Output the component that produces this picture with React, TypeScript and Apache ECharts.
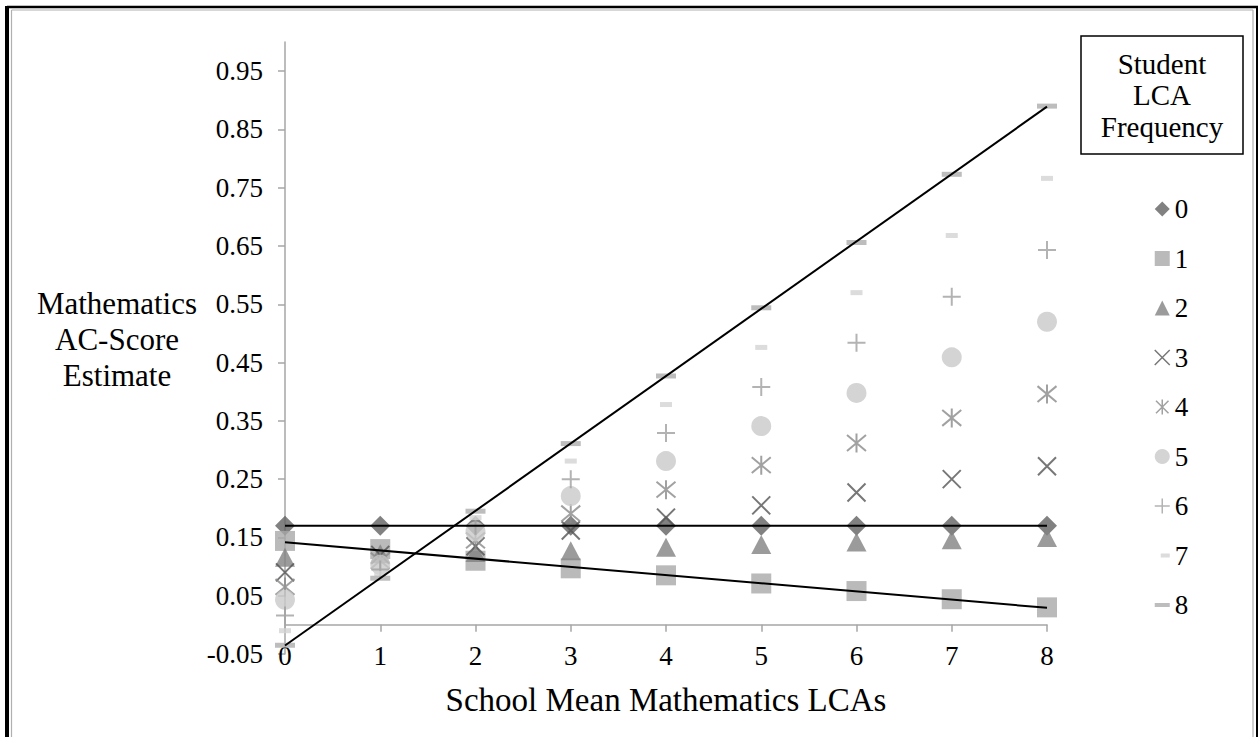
import React, { useEffect, useRef } from "react";
import * as echarts from "echarts";

// ---- data ----
const xValues = [0, 1, 2, 3, 4, 5, 6, 7, 8];
const seriesNames = ["0", "1", "2", "3", "4", "5", "6", "7", "8"];
const freq0 = [0.17, 0.17, 0.17, 0.17, 0.17, 0.17, 0.17, 0.17, 0.17];
const freq1 = [0.144, 0.13, 0.11, 0.097, 0.085, 0.071, 0.058, 0.044, 0.03];
const freq2 = [0.116, 0.122, 0.124, 0.127, 0.133, 0.138, 0.142, 0.146, 0.15];
const freq3 = [0.09, 0.12, 0.135, 0.162, 0.184, 0.205, 0.227, 0.25, 0.272];
const freq4 = [0.065, 0.11, 0.145, 0.191, 0.232, 0.274, 0.312, 0.355, 0.396];
const freq5 = [0.043, 0.103, 0.16, 0.221, 0.281, 0.341, 0.398, 0.459, 0.52];
const freq6 = [0.016, 0.095, 0.17, 0.25, 0.329, 0.408, 0.484, 0.563, 0.643];
const freq7 = [-0.01, 0.088, 0.184, 0.281, 0.378, 0.476, 0.57, 0.668, 0.766];
const freq8 = [-0.035, 0.08, 0.195, 0.311, 0.427, 0.544, 0.656, 0.773, 0.89];
const yTicks = [-0.05, 0.05, 0.15, 0.25, 0.35, 0.45, 0.55, 0.65, 0.75, 0.85, 0.95];
const trendSeries = ["0", "1", "8"];
const yTitle = ["Mathematics", "AC-Score", "Estimate"];
const xTitle = "School Mean Mathematics LCAs";
const legendTitle = ["Student", "LCA", "Frequency"];

const allValues = [freq0, freq1, freq2, freq3, freq4, freq5, freq6, freq7, freq8];

// ---- styles ----
const FONT = "Liberation Serif";
const X_PATH = "path://M0,0L10,10M10,0L0,10";
const STAR_PATH = "path://M0,0L10,10M10,0L0,10M5,-1L5,11";
const PLUS_PATH = "path://M5,0L5,10M0,5L10,5";
const styles: any[] = [
  { symbol: "diamond", size: 20, color: "#626262", icon: "diamond" },
  { symbol: "rect", size: 20, color: "#a9a9a9", icon: "rect" },
  { symbol: "triangle", size: [20, 19], color: "#828282", icon: "triangle" },
  { symbol: X_PATH, size: 18, color: "#555555", stroke: true, icon: X_PATH },
  { symbol: STAR_PATH, size: 19, color: "#8a8a8a", stroke: true, icon: STAR_PATH },
  { symbol: "circle", size: 20, color: "#c9c9c9", icon: "circle" },
  { symbol: PLUS_PATH, size: 18, color: "#a0a0a0", stroke: true, icon: PLUS_PATH },
  { symbol: "rect", size: [12, 5], color: "#d3d3d3", icon: "path://M0,0M15,15M6,5.5h9v4h-9z" },
  { symbol: "rect", size: [20, 5], color: "#adadad", icon: "path://M0,0M15,15M0,5.5h15v4h-15z" },
];

function linReg(xs: number[], ys: number[]) {
  const n = xs.length;
  const mx = xs.reduce((a, b) => a + b, 0) / n;
  const my = ys.reduce((a, b) => a + b, 0) / n;
  let sxy = 0;
  let sxx = 0;
  for (let i = 0; i < n; i++) {
    sxy += (xs[i] - mx) * (ys[i] - my);
    sxx += (xs[i] - mx) * (xs[i] - mx);
  }
  const b = sxx === 0 ? 0 : sxy / sxx;
  return { a: my - b * mx, b };
}

export default function App() {
  const ref = useRef<HTMLDivElement>(null);

  useEffect(() => {
    if (!ref.current) return;
    const chart = echarts.init(ref.current, undefined, { renderer: "svg" });

    const gridLeft = 285;
    const gridTop = 42;
    const gridRight = 1047;
    const gridBottom = 654;

    const scatterSeries = seriesNames.map((name, i) => {
      const st = styles[i];
      return {
        name,
        type: "scatter",
        xAxisIndex: 0,
        yAxisIndex: 0,
        data: xValues.map((x, j) => [x, allValues[i][j]]),
        symbol: st.symbol,
        symbolSize: st.size,
        itemStyle: st.stroke
          ? { color: st.color, borderColor: st.color, borderWidth: 2 }
          : { color: st.color },
        emphasis: { disabled: true },
        z: 2,
      };
    });

    const lineSeries = trendSeries.map((name) => {
      const idx = seriesNames.indexOf(name);
      const { a, b } = linReg(xValues, allValues[idx]);
      const x0 = xValues[0];
      const x1 = xValues[xValues.length - 1];
      return {
        name: "Linear (" + name + ")",
        type: "line",
        xAxisIndex: 0,
        yAxisIndex: 0,
        data: [
          [x0, a + b * x0],
          [x1, a + b * x1],
        ],
        showSymbol: false,
        symbol: "none",
        lineStyle: { color: "#000", width: 2 },
        silent: true,
        z: 5,
      };
    });

    const legendData = seriesNames.map((name, i) => {
      const st = styles[i];
      const item: any = { name, icon: st.icon };
      if (st.stroke) {
        item.itemStyle = { color: st.color, borderColor: st.color, borderWidth: 1.5 };
      } else {
        item.itemStyle = { color: st.color, borderWidth: 0 };
      }
      return item;
    });

    const option: any = {
      animation: false,
      backgroundColor: "#fff",
      textStyle: { fontFamily: FONT },
      grid: {
        left: gridLeft,
        top: gridTop,
        width: gridRight - gridLeft,
        height: gridBottom - gridTop,
        containLabel: false,
      },
      xAxis: [
        {
          type: "value",
          min: 0,
          max: 8,
          interval: 1,
          position: "bottom",
          axisLine: { show: true, onZero: true, lineStyle: { color: "#a6a6a6", width: 1.5 } },
          axisTick: { show: true, length: 7, lineStyle: { color: "#a6a6a6", width: 1.5 } },
          axisLabel: { show: false },
          splitLine: { show: false },
        },
        {
          type: "value",
          min: 0,
          max: 8,
          interval: 1,
          position: "bottom",
          axisLine: { show: false, onZero: false },
          axisTick: { show: false },
          axisLabel: {
            show: true,
            margin: -12,
            fontSize: 27,
            color: "#000",
            fontFamily: FONT,
          },
          splitLine: { show: false },
          name: xTitle,
          nameLocation: "middle",
          nameGap: 29,
          nameTextStyle: { fontSize: 33, color: "#000", fontFamily: FONT },
        },
      ],
      yAxis: [
        {
          type: "value",
          min: -0.05,
          max: 1.0,
          axisLine: { show: true, onZero: false, lineStyle: { color: "#a6a6a6", width: 1.5 } },
          axisTick: {
            show: true,
            length: 7,
            customValues: yTicks,
            lineStyle: { color: "#a6a6a6", width: 1.5 },
          },
          axisLabel: {
            show: true,
            customValues: yTicks,
            margin: 22,
            fontSize: 27,
            color: "#000",
            fontFamily: FONT,
            formatter: (v: number) => v.toFixed(2),
          },
          splitLine: { show: false },
        },
      ],
      legend: {
        orient: "vertical",
        left: 1149,
        top: 190,
        itemGap: 21.5,
        itemWidth: 15,
        itemHeight: 15,
        textStyle: { fontSize: 27, color: "#000", fontFamily: FONT, lineHeight: 28 },
        selectedMode: false,
        data: legendData,
      },
      graphic: [
        // outer frame
        { type: "line", shape: { x1: 7, y1: 7, x2: 1258, y2: 7 }, style: { stroke: "#000", lineWidth: 2.5 }, silent: true },
        { type: "line", shape: { x1: 7, y1: 6, x2: 7, y2: 737 }, style: { stroke: "#000", lineWidth: 4 }, silent: true },
        { type: "line", shape: { x1: 1257, y1: 6, x2: 1257, y2: 737 }, style: { stroke: "#000", lineWidth: 2 }, silent: true },
        { type: "line", shape: { x1: 11.5, y1: 10, x2: 1253, y2: 10 }, style: { stroke: "#b0b0b0", lineWidth: 1.2 }, silent: true },
        { type: "line", shape: { x1: 11.5, y1: 10, x2: 11.5, y2: 737 }, style: { stroke: "#b0b0b0", lineWidth: 1.2 }, silent: true },
        { type: "line", shape: { x1: 1253, y1: 10, x2: 1253, y2: 737 }, style: { stroke: "#b0b0b0", lineWidth: 1.2 }, silent: true },
        // legend title box
        {
          type: "rect",
          shape: { x: 1081, y: 36, width: 162, height: 118 },
          style: { fill: "#fff", stroke: "#000", lineWidth: 1.5 },
          silent: true,
        },
        {
          type: "text",
          x: 1162,
          y: 95,
          style: {
            text: legendTitle.join("\n"),
            font: "29px " + FONT,
            lineHeight: 31.5,
            fill: "#000",
            textAlign: "center",
            textVerticalAlign: "middle",
          },
          silent: true,
        },
        // y-axis title
        {
          type: "text",
          x: 117,
          y: 339,
          style: {
            text: yTitle.join("\n"),
            font: "31px " + FONT,
            lineHeight: 36,
            fill: "#000",
            textAlign: "center",
            textVerticalAlign: "middle",
          },
          silent: true,
        },
      ],
      series: [...scatterSeries, ...lineSeries],
    };

    chart.setOption(option);
    return () => {
      chart.dispose();
    };
  }, []);

  return (
    <div
      ref={ref}
      style={{ position: "fixed", left: 0, top: 0, width: 1259, height: 737, background: "#fff" }}
    />
  );
}
